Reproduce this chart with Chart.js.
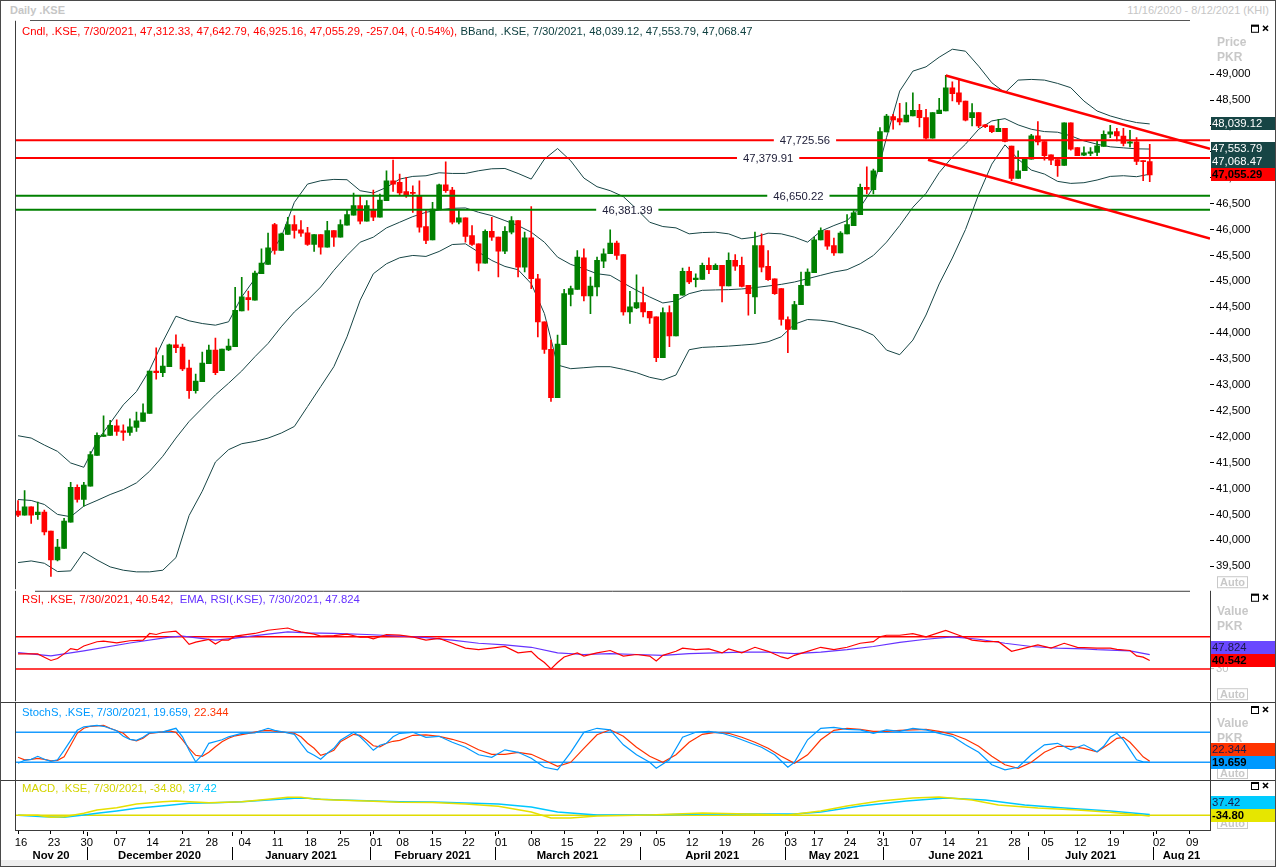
<!DOCTYPE html>
<html>
<head>
<meta charset="utf-8"/>
<title>Daily .KSE</title>
<script src="https://cdn.jsdelivr.net/npm/chart.js@4.4.1/dist/chart.umd.min.js"></script>
<style>
body { margin:0; background:#fff; font-family:"Liberation Sans", Arial, sans-serif; }
canvas { position:absolute; left:0; }
#frame { position:absolute; left:0; top:0; width:1274px; height:865px; border:1px solid #4a4a4a; pointer-events:none; }
#strip { position:absolute; left:1px; top:860px; width:1274px; height:6px; background:#efefef; }
#ttl { position:absolute; left:10px; top:4px; font-size:11px; font-weight:bold; color:#c6c6c6; }
#rng { position:absolute; right:7px; top:4px; font-size:11px; color:#c6c6c6; }
#hdr { position:absolute; left:30px; top:20px; width:1160px; border-top:1px solid #555; }
</style>
</head>
<body>
<div id="ttl">Daily .KSE</div>
<div id="rng">11/16/2020 - 8/12/2021 (KHI)</div>
<div id="hdr"></div>
<canvas id="cMain" width="1276" height="586" style="top:12px"></canvas>
<canvas id="cRsi" width="1276" height="128" style="top:582px"></canvas>
<canvas id="cSto" width="1276" height="94" style="top:694px"></canvas>
<canvas id="cMacd" width="1276" height="95" style="top:772px"></canvas>
<div id="strip"></div>
<div id="frame"></div>
<script>
// ---------- data ----------
var lastDate = '7/30/2021';
// one entry per trading day, 16 Nov 2020 .. 30 Jul 2021
var opens = [40565,40488,40648,40494,40546,40180,39622,39847,40353,41026,
40789,41045,41642,42007,42026,42212,42116,42084,42180,42295,
42449,43270,43238,43353,43776,43731,43327,42892,43065,43411,
43674,43276,43674,43738,44430,44686,44635,45147,45327,46096,
45596,45904,46096,45994,45936,45712,45904,45660,45981,45853,
46083,46276,46462,46160,46378,46237,46558,46942,46910,46731,
46718,46654,46058,45801,46397,46865,46763,46141,46224,45885,
45725,45353,45968,45853,45584,45949,46173,45276,45840,45051,
44218,43686,42757,43776,44750,44846,45455,44718,44891,45391,
45532,45737,45519,44410,44487,44590,44423,44314,43526,44398,
43949,44731,45192,45032,45039,45308,45225,45308,44910,45404,
45308,44923,44699,45692,45289,45051,44859,44263,44071,44551,
44923,45167,45801,45981,45692,45551,45917,46077,46289,46814,
46769,47115,47885,48180,48141,48077,48192,48301,48161,47763,
48238,48289,48738,48641,48481,48161,48257,48020,48000,47891,
47956,47609,46988,47135,47359,47808,47699,47443,47353,47238,
48058,47584,47436,47468,47488,47603,47840,47891,47802,47667,
47693,47327,47312.33];
var highs = [40770,40962,40648,40738,40584,40180,40020,40424,41122,41071,
41122,41712,42078,42404,42315,42327,42231,42347,42475,42635,
43270,43718,43565,43789,43968,43789,43481,43212,43635,43770,
43904,43693,43885,44885,45077,44814,45199,45628,45930,46122,
45930,46237,46269,46173,46045,45904,45904,46160,45981,46186,
46378,46705,46641,46558,46763,46686,47135,47340,47070,47006,
46846,46942,46378,46526,46878,47308,46814,46365,46224,46077,
45725,45994,46237,45853,46058,46250,46173,45949,46442,45135,
44218,43865,43962,44846,44910,45596,45628,45084,45468,45628,
45994,45776,45519,44808,45128,44891,44423,44314,44487,44526,
44750,45256,45276,45147,45353,45455,45340,45308,45551,45519,
45468,44923,45949,45917,45596,45051,44859,44314,44616,45180,
45244,45853,46032,45981,45833,45962,46289,46365,46878,47212,
47167,47968,48224,48224,48436,48449,48641,48417,48321,48257,
48532,48975,48853,48885,48481,48430,48257,48032,48000,48129,
47956,47609,47520,47359,47840,48084,47699,47443,47353,48058,
48058,47584,47597,47584,47712,47904,48013,47956,47956,47917,
47776,47327,47642.79];
var lows = [40456,40488,40328,40405,40103,39302,39603,39847,40353,40738,
40661,41045,41642,42007,42026,42026,41930,42026,42103,42295,
42449,43110,43161,43353,43622,43276,42738,42840,43065,43411,
43199,43276,43661,43738,44430,44442,44635,45147,45327,45526,
45596,45904,45833,45865,45692,45577,45526,45660,45673,45853,
46083,46276,46109,46160,46173,46237,46558,46737,46673,46622,
46333,45949,45725,45801,46397,46718,46109,46109,45756,45692,
45199,45353,45789,45084,45532,45917,45084,45180,44859,43929,
43609,42680,42757,43776,44526,44846,44622,44378,44718,45263,
45532,45423,44346,44186,44474,44314,44186,43449,43526,43738,
43949,44731,44955,44891,45039,45148,45225,44603,44910,45212,
44891,44346,44378,45180,45019,44750,44154,43622,44071,44551,
44923,45167,45801,45616,45500,45551,45917,46077,46289,46686,
46686,47115,47885,47936,48019,48077,48192,47981,47744,47763,
48238,48289,48481,48417,48097,48000,47968,47968,47872,47891,
47693,46943,46988,47135,47359,47635,47340,47250,47026,47238,
47533,47424,47424,47424,47424,47603,47776,47712,47616,47597,
47250,46943,46925.16];
var closes = [40488,40648,40488,40546,40161,39622,39872,40372,41026,40789,
41065,41654,42026,42039,42219,42103,42084,42193,42308,42462,
43270,43238,43366,43776,43718,43308,42892,43077,43424,43674,
43238,43693,43751,44443,44699,44648,45160,45353,45647,45596,
45917,46096,45981,45930,45712,45904,45660,45981,45853,46096,
46288,46462,46160,46462,46237,46570,46942,46878,46705,46673,
46698,46045,45789,46397,46865,46750,46141,46224,45865,45712,
45353,45968,45853,45584,45968,46173,45276,45840,45051,44218,
43686,42757,43788,44763,44859,45468,44718,44910,45404,45532,
45737,45500,44410,44506,44590,44410,44295,43526,44398,43949,
44750,45192,44987,45064,45308,45225,45308,44910,45404,45295,
44904,44763,45692,45276,45032,44763,44263,44071,44551,44923,
45180,45801,45981,45680,45551,45930,46096,46321,46814,46776,
47135,47891,48192,48115,48077,48212,48301,48160,47763,48257,
48308,48738,48622,48462,48109,48257,48000,47988,47891,47956,
47699,46988,47135,47359,47808,47693,47424,47340,47231,48058,
47552,47424,47481,47500,47616,47840,47885,47808,47661,47693,
47315,47312.33,47055.29];

// Bollinger bands, read every second trading day
var bbDays = [];
for (var d = 0; d <= 172; d += 2) bbDays.push(d);
var bbUpper = [42020,41975,41840,41718,41494,41411,41911,42263,42616,42872,
43289,43834,44327,44238,44186,44154,44219,44699,45051,45468,
45853,46526,46878,46942,46968,46962,46750,46705,46814,46974,
47026,47038,47096,47083,47083,47135,47173,47179,47083,46974,
47359,47564,47327,46994,46827,46750,46635,46397,46141,46058,
46032,45917,45942,45949,45917,45821,45853,45930,45917,45853,
45757,45968,46077,46173,46430,46814,47776,48673,49058,49141,
49327,49481,49443,49154,48834,48641,48885,48898,48885,48821,
48738,48481,48289,48193,48122,48065,48039.12];
var bbMiddle = [40789,40770,40693,40501,40456,40661,40770,40885,40981,41110,
41334,41623,41975,42295,42552,42808,43033,43270,43545,43801,
44122,44410,44635,44891,45212,45500,45756,45853,46032,46141,
46250,46333,46378,46410,46417,46333,46269,46173,46077,45949,
45756,45468,45327,45244,45147,45115,44968,44827,44699,44583,
44622,44763,44827,44834,44840,44853,44878,44910,44942,44987,
45051,45116,45180,45225,45340,45500,45757,46077,46430,46699,
47100,47400,47648,47936,48097,48141,48020,47936,47891,47879,
47808,47712,47648,47597,47577,47558,47553.79];
var bbLower = [39571,39603,39558,39398,39411,39776,39622,39488,39424,39392,
39392,39424,39667,40480,40949,41513,41751,41866,41910,41974,
42071,42199,42583,42968,43353,43929,44635,45147,45340,45455,
45500,45481,45577,45711,45724,45564,45404,45288,45224,44955,
44378,43385,43314,43333,43353,43353,43301,43237,43148,43096,
43192,43680,43725,43737,43750,43769,43789,43834,43930,44173,
44263,44250,44218,44141,44071,43962,43673,43584,43866,44350,
44950,45450,46000,46680,47263,47635,47359,47148,47071,46930,
46891,46904,46956,47026,47039,47020,47068.47];

// horizontal levels and the drawn channel (day index, price)
var levels = [47725.56, 47379.91, 46650.22, 46381.39];
var levelColors = ['#ff0000', '#ff0000', '#008000', '#008000'];
var channelTop = [[141, 48975], [181.16, 47560]];
var channelBottom = [[138.3, 47348], [181.16, 45827]];

// RSI and its EMA (day index, value)
var rsi = [[0,48.8],[3,48.8],[4,44.7],[5,40.6],[6,43.0],[7,48.8],[8,55.3],[9,53.7],[10,58.6],[12,63.9],[13,64.7],[15,62.6],[17,65.1],[19,66.0],[20,74.2],[21,72.9],[22,75.4],[24,77.0],[25,70.0],[26,60.7],[27,63.5],[29,66.8],[30,61.0],[31,66.0],[32,66.0],[33,70.9],[36,74.2],[38,78.2],[39,79.1],[41,81.0],[42,78.2],[43,76.1],[45,73.3],[46,70.9],[48,71.4],[50,73.3],[52,69.5],[53,70],[54,67.6],[56,72.9],[58,72.1],[60,70],[62,66],[64,68],[66,62],[68,56],[70,54],[72,56],[74,58],[76,50],[78,52],[79,44],[80,38],[81,30],[82,38],[83,45],[85,50],[86,46],[88,50],[90,53],[92,46],[94,48],[96,46],[97,40],[98,47],[100,52],[101,56],[103,54],[105,55],[107,50],[108,55],[110,50],[112,57],[114,52],[116,45],[117,43],[118,47],[120,52],[122,57],[124,54],[126,57],[128,62],[130,64],[131,70],[132,72],[134,72],[136,74],[138,70],[141,78],[143,72],[145,66],[147,64],[149,64],[151,52],[153,56],[155,60],[157,56],[159,62],[161,57],[164,56],[166,56],[167,54.5],[169,53],[170,46.3],[171,44.7],[172,40.542]];
var rsiEma = [[0,50.3],[5,46.3],[10,52.5],[17,62.3],[23,69.6],[25,70.9],[30,66],[33,68.4],[38,73.3],[41,76.1],[44,74.9],[48,74.2],[53,72.9],[58,70.9],[62,69],[66,66],[70,62],[74,60],[78,57],[82,50],[86,48],[90,49],[94,48],[98,47],[102,49],[106,50],[110,51],[114,51],[118,49],[122,51],[126,54],[130,58],[134,63],[138,67],[142,70],[146,67],[150,62],[154,58],[158,56],[162,55],[164,54],[169,52.5],[172,47.824]];
var rsiLevels = [70, 30];

// Slow stochastic %K and %D
var stochK = [[0,18],[1,24],[2,26],[3,32],[4,26],[5,22],[6,25],[7,44],[8,64],[9,84],[10,91],[12,94],[13,92],[15,83],[16,72],[17,66],[18,64],[19,70],[20,79],[22,81],[24,88],[25,71],[26,44],[27,21],[28,35],[29,58],[31,65],[32,71],[34,78],[36,79],[38,88],[39,84],[41,79],[42,76],[43,58],[44,41],[45,34],[46,26],[47,38],[48,48],[49,64],[51,80],[52,71],[53,58],[54,44],[55,54],[56,58],[57,71],[58,78],[60,80],[62,70],[64,72],[66,60],[68,50],[70,35],[72,30],[74,45],[76,40],[78,28],[80,10],[82,5],[84,40],[86,80],[88,88],[90,85],[92,55],[94,35],[96,20],[97,8],[99,25],[101,70],[103,80],[105,82],[107,78],[109,70],[111,60],[113,50],[115,35],[117,10],[118,20],[120,65],[122,88],[124,90],[126,86],[128,85],[130,78],[132,85],[134,82],[136,88],[138,85],[140,78],[142,72],[144,55],[146,40],[148,15],[150,5],[152,10],[154,35],[156,55],[158,58],[160,45],[162,55],[164,41],[165,52],[166,70],[167,78],[168,65],[169,45],[170,25],[171,21],[172,19.659]];
var stochD = [[0,30],[1,25],[2,26],[3,28],[4,26],[5,23],[6,24],[7,31],[8,54],[9,78],[10,88],[11,92],[13,94],[14,88],[16,78],[17,66],[18,63],[19,68],[20,78],[22,81],[23,83],[24,80],[25,65],[26,48],[27,34],[28,32],[29,40],[30,51],[31,61],[32,68],[33,73],[35,78],[37,83],[38,84],[40,81],[42,78],[43,71],[44,58],[45,48],[46,34],[47,38],[48,44],[49,61],[51,76],[52,74],[53,64],[54,53],[55,51],[56,58],[57,62],[58,64],[60,74],[62,75],[64,72],[66,66],[68,58],[70,45],[72,36],[74,36],[76,40],[78,36],[80,24],[82,12],[84,20],[86,48],[88,75],[90,85],[92,72],[94,50],[96,32],[98,20],[100,35],[102,60],[104,76],[106,80],[108,78],[110,70],[112,60],[114,48],[116,32],[118,18],[120,35],[122,65],[124,84],[126,88],[128,86],[130,82],[132,82],[134,84],[136,85],[138,86],[140,82],[142,76],[144,66],[146,52],[148,32],[150,15],[152,8],[154,20],[156,40],[158,52],[160,52],[162,48],[164,41],[166,58],[167,68],[168,70],[169,60],[170,46],[171,31],[172,22.344]];
var stochLevels = [80, 20];

// MACD line and signal line
var macdLine = [[0,0],[3,0],[5,-100],[7,-70],[10,100],[12,265],[15,380],[18,565],[22,680],[24,715],[29,630],[34,680],[38,800],[41,900],[43,900],[45,815],[48,765],[53,715],[58,650],[63,640],[68,560],[73,450],[78,165],[81,-135],[84,-135],[88,-35],[96,15],[104,115],[111,65],[117,15],[122,215],[126,465],[131,715],[136,865],[140,915],[145,765],[149,515],[155,365],[161,265],[166,150],[172,-34.80]];
var macdSignal = [[0,0],[4,-70],[7,-100],[10,15],[12,100],[15,215],[18,350],[23,500],[26,600],[30,630],[34,680],[38,765],[42,850],[44,850],[46,800],[49,765],[53,730],[58,680],[63,660],[68,620],[73,560],[78,420],[82,165],[88,15],[96,15],[104,65],[111,65],[118,65],[122,165],[128,465],[135,715],[141,865],[147,765],[153,515],[159,365],[166,215],[172,37.42]];

// axis labels
var priceTicks = [39500,40000,40500,41000,41500,42000,42500,43000,43500,44000,44500,45000,45500,46000,46500,47000,47500,48000,48500,49000];
var dayTicks = [0,5,10,15,20,25,29,34,39,44,49,54,58,63,68,73,78,83,88,92,97,102,107,112,117,121,126,131,136,141,146,151,156,161,166,168,173,178];
var dayLabels = ['16','23','30','07','14','21','28','04','11','18','25','01','08','15','22','01','08','15','22','29','05','12','19','26','03','17','24','31','07','14','21','28','05','12','19','','02','09'];
var monthBreaks = [10.5,32.5,53.5,72.5,94.5,116.5,131.5,153.5,172.5];
var monthNames = ['Nov 20','December 2020','January 2021','February 2021','March 2021','April 2021','May 2021','June 2021','July 2021','Aug 21'];

// ---------- drawing ----------
Chart.defaults.font.family = '"Liberation Sans", Arial, sans-serif';
Chart.defaults.font.size = 11.3;
Chart.defaults.color = '#000';

var FONT = '11.3px "Liberation Sans", Arial, sans-serif';
var XMIN = -0.46, XMAX = 181.16;
var UP = '#008000', DOWN = '#ff0000', BB = '#174545';

function pts(pairs) { return pairs.map(function (p) { return {x: p[0], y: p[1]}; }); }
function fmt(v, d) { return v.toLocaleString('en-US', {minimumFractionDigits: d, maximumFractionDigits: d}); }
function hline(v) { return [{x: XMIN, y: v}, {x: XMAX, y: v}]; }
function line(data, color, order, width) {
    return {type: 'line', data: data, borderColor: color, borderWidth: width || 1, pointRadius: 0, tension: 0, fill: false, order: order};
}

function baseOpts(yMin, yMax, yCfg, padBottom) {
    var y = {position: 'right', min: yMin, max: yMax, afterFit: function (s) { s.width = 66; }, border: {display: false}};
    for (var k in yCfg) y[k] = yCfg[k];
    return {
        responsive: false, animation: false, events: [],
        layout: {padding: {left: 15, right: 0, top: 8, bottom: padBottom}},
        plugins: {legend: {display: false}, tooltip: {enabled: false}},
        scales: {
            x: {type: 'linear', min: XMIN, max: XMAX, display: false, offset: false},
            y: y
        }
    };
}

function deco(cfg) {
    return {
        id: 'deco',
        afterDatasetsDraw: function (chart) {
            if (!cfg.levels) return;
            var ctx = chart.ctx, xs = chart.scales.x, ys = chart.scales.y;
            ctx.save();
            ctx.font = FONT; ctx.textAlign = 'center'; ctx.textBaseline = 'middle';
            cfg.levels.forEach(function (l) {
                var px = xs.getPixelForValue(l.at), py = ys.getPixelForValue(l.v);
                var t = fmt(l.v, 2), w = ctx.measureText(t).width;
                ctx.fillStyle = '#fff';
                ctx.fillRect(px - w / 2 - 6, py - 3, w + 12, 6);
                ctx.fillStyle = '#20203a';
                ctx.fillText(t, px, py + 1);
            });
            ctx.restore();
        },
        afterDraw: function (chart) {
            var ctx = chart.ctx, a = chart.chartArea, ys = chart.scales.y, W = chart.width;
            ctx.save();
            ctx.strokeStyle = '#3c3c3c'; ctx.lineWidth = 1;
            ctx.beginPath(); ctx.moveTo(a.left + 0.5, a.top); ctx.lineTo(a.left + 0.5, a.bottom); ctx.stroke();
            if (cfg.top) { ctx.beginPath(); ctx.moveTo(cfg.top[0], a.top + 0.5); ctx.lineTo(cfg.top[1], a.top + 0.5); ctx.stroke(); }
            if (cfg.rightBorder) { ctx.beginPath(); ctx.moveTo(a.right + 0.5, a.top); ctx.lineTo(a.right + 0.5, a.bottom); ctx.stroke(); }
            if (cfg.bottom) { ctx.beginPath(); ctx.moveTo(a.left, a.bottom + 0.5); ctx.lineTo(a.right + 1, a.bottom + 0.5); ctx.stroke(); }

            // legend text
            ctx.font = FONT; ctx.textAlign = 'left'; ctx.textBaseline = 'middle';
            var x = a.left + 7;
            cfg.legend.forEach(function (p) {
                ctx.fillStyle = p[1];
                ctx.fillText(p[0], x, a.top + cfg.legendY);
                x += ctx.measureText(p[0]).width;
            });

            // axis titles
            ctx.font = 'bold 12px "Liberation Sans", Arial, sans-serif';
            ctx.fillStyle = '#c8c8c8';
            cfg.titles.forEach(function (t, k) { ctx.fillText(t, a.right + 7, a.top + cfg.titleY + 15 * k); });

            // Auto button
            var ay = a.bottom - 13;
            ctx.strokeStyle = '#c8c8c8';
            ctx.strokeRect(a.right + 7.5, ay + 0.5, 30, 11);
            ctx.font = 'bold 11px "Liberation Sans", Arial, sans-serif';
            ctx.fillStyle = '#c8c8c8';
            ctx.fillText('Auto', a.right + 10, ay + 6.5);

            // window icons
            var iy = a.top + cfg.iconY;
            ctx.strokeStyle = '#000'; ctx.lineWidth = 1;
            ctx.strokeRect(1251.5, iy - 3.5, 7, 7);
            ctx.fillStyle = '#000'; ctx.fillRect(1251, iy - 4, 8, 2);
            ctx.lineWidth = 1.6;
            ctx.beginPath();
            ctx.moveTo(1263, iy - 3); ctx.lineTo(1268, iy + 2);
            ctx.moveTo(1268, iy - 3); ctx.lineTo(1263, iy + 2);
            ctx.stroke();

            // last value boxes
            var h = 13, x0 = a.right + 1;
            var first = cfg.boxes[0];
            var placed = [{b: first, y: ys.getPixelForValue(first.v)}];
            var cur = placed[0].y;
            cfg.boxes.slice(1).map(function (b) { return {b: b, y: ys.getPixelForValue(b.v)}; })
                .sort(function (p, q) { return q.y - p.y; })
                .forEach(function (r) { var yy = Math.min(r.y, cur - h); cur = yy; placed.push({b: r.b, y: yy}); });
            placed.forEach(function (p) {
                var top = Math.round(p.y - h / 2);
                ctx.fillStyle = p.b.bg;
                ctx.fillRect(x0, top, W - x0, h);
                ctx.fillStyle = p.b.fg;
                ctx.font = (p.b.bold ? 'bold ' : '') + FONT;
                ctx.fillText(fmt(p.b.v, cfg.dec), x0 + 1, top + h / 2 + 0.5);
            });
            ctx.restore();
        }
    };
}

// ----- main price panel -----
var days = closes.map(function (c, i) { return i; });
var candleColors = closes.map(function (c, i) { return c >= opens[i] ? UP : DOWN; });
var n = closes.length - 1;
var chg = closes[n] - closes[n - 1];

var mainOpts = baseOpts(39057, 50030, {
    afterBuildTicks: function (s) { s.ticks = priceTicks.map(function (v) { return {value: v}; }); },
    ticks: {color: '#000', padding: 2, callback: function (v) { return fmt(v, 0); }},
    grid: {drawOnChartArea: false, drawTicks: true, tickLength: 4, color: '#000'}
}, 8);

var mainSets = [
    line(pts(bbDays.map(function (d, k) { return [d, bbUpper[k]]; })), BB, 10),
    line(pts(bbDays.map(function (d, k) { return [d, bbMiddle[k]]; })), BB, 10),
    line(pts(bbDays.map(function (d, k) { return [d, bbLower[k]]; })), BB, 10),
    {type: 'bar', data: days.map(function (i) { return {x: i, y: [lows[i], highs[i]]}; }),
        backgroundColor: candleColors, barThickness: 1, grouped: false, order: 6},
    {type: 'bar', data: days.map(function (i) { return {x: i, y: [opens[i], closes[i]]}; }),
        backgroundColor: candleColors, barThickness: 5, minBarLength: 1, grouped: false, order: 5}
];
levels.forEach(function (v, k) { mainSets.push(line(hline(v), levelColors[k], 3, 2)); });
mainSets.push(line(pts(channelTop), '#ff0000', 2, 2.5));
mainSets.push(line(pts(channelBottom), '#ff0000', 2, 2.5));

new Chart(document.getElementById('cMain'), {
    type: 'bar',
    data: {datasets: mainSets},
    options: mainOpts,
    plugins: [deco({
        legendY: 11, titleY: 22, iconY: 8, titles: ['Price', 'PKR'], dec: 2,
        levels: [{v: levels[0], at: 119.6}, {v: levels[1], at: 114}, {v: levels[2], at: 118.6}, {v: levels[3], at: 92.6}],
        legend: [
            ['Cndl, .KSE, ' + lastDate + ', ' + [opens[n], highs[n], lows[n], closes[n]].map(function (v) { return fmt(v, 2); }).join(', ') +
                ', ' + fmt(chg, 2) + ', (' + fmt(chg / closes[n - 1] * 100, 2) + '%), ', '#ff0000'],
            ['BBand, .KSE, ' + lastDate + ', ' + [bbUpper, bbMiddle, bbLower].map(function (b) { return fmt(b[b.length - 1], 2); }).join(', '), '#0f4040']
        ],
        boxes: [
            {v: closes[n], bg: '#ff0000', fg: '#000', bold: true},
            {v: bbUpper[bbUpper.length - 1], bg: BB, fg: '#fff'},
            {v: bbMiddle[bbMiddle.length - 1], bg: BB, fg: '#fff'},
            {v: bbLower[bbLower.length - 1], bg: BB, fg: '#fff'}
        ]
    })]
});

// ----- RSI panel -----
var rsiLast = rsi[rsi.length - 1][1], emaLast = rsiEma[rsiEma.length - 1][1];
new Chart(document.getElementById('cRsi'), {
    type: 'line',
    data: {datasets: [
        line(hline(rsiLevels[0]), '#ff0000', 5, 1.5),
        line(hline(rsiLevels[1]), '#ff0000', 5, 1.5),
        line(pts(rsiEma), '#6633ff', 2, 1.2),
        line(pts(rsi), '#ff0000', 1, 1.2)
    ]},
    options: baseOpts(-10.1, 127.3, {
        afterBuildTicks: function (s) { s.ticks = [{value: rsiLevels[1]}]; },
        ticks: {color: '#c0c0c0', padding: 2},
        grid: {drawOnChartArea: false, drawTicks: true, tickLength: 4, color: '#c0c0c0'}
    }, 8),
    plugins: [deco({
        legendY: 9, titleY: 21, iconY: 7, titles: ['Value', 'PKR'], dec: 3, top: [35, 1190], rightBorder: true,
        legend: [['RSI, .KSE, ' + lastDate + ', ' + fmt(rsiLast, 3) + ',  ', '#ff0000'],
                 ['EMA, RSI(.KSE), ' + lastDate + ', ' + fmt(emaLast, 3), '#6633ff']],
        boxes: [{v: rsiLast, bg: '#ff0000', fg: '#000', bold: true}, {v: emaLast, bg: '#6a48ff', fg: '#1a1a48'}]
    })]
});

// ----- Stochastic panel -----
var kLast = stochK[stochK.length - 1][1], dLast = stochD[stochD.length - 1][1];
new Chart(document.getElementById('cSto'), {
    type: 'line',
    data: {datasets: [
        line(hline(stochLevels[0]), '#1a9cff', 5, 1.5),
        line(hline(stochLevels[1]), '#1a9cff', 5, 1.5),
        line(pts(stochD), '#ff3300', 2, 1.2),
        line(pts(stochK), '#0099ff', 1, 1.2)
    ]},
    options: baseOpts(-15.4, 140.6, {ticks: {display: false}, grid: {display: false}}, 8),
    plugins: [deco({
        legendY: 11, titleY: 22, iconY: 8, titles: ['Value', 'PKR'], dec: 3, top: [0, 1276], rightBorder: true,
        legend: [['StochS, .KSE, ' + lastDate + ', ' + fmt(kLast, 3) + ', ', '#0099ff'], [fmt(dLast, 3), '#ff3300']],
        boxes: [{v: kLast, bg: '#0099ff', fg: '#000', bold: true}, {v: dLast, bg: '#ff3300', fg: '#1a1a48'}]
    })]
});

// ----- MACD panel with the date axis -----
var mLast = macdLine[macdLine.length - 1][1], sLast = macdSignal[macdSignal.length - 1][1];
var macdOpts = baseOpts(-735, 1765, {ticks: {display: false}, grid: {display: false}}, 0);
macdOpts.scales.x = {
    type: 'linear', min: XMIN, max: XMAX, offset: false, position: 'bottom',
    afterBuildTicks: function (s) { s.ticks = dayTicks.map(function (v) { return {value: v}; }); },
    afterFit: function (s) { s.height = 37; },
    ticks: {autoSkip: false, maxRotation: 0, padding: 2, labelOffset: 3, color: '#000',
        callback: function (v, i) { return dayLabels[i]; }},
    grid: {drawOnChartArea: false, drawTicks: true, tickLength: 4, color: '#000'},
    border: {display: false}
};

var months = {
    id: 'months',
    afterDraw: function (chart) {
        var ctx = chart.ctx, a = chart.chartArea, xs = chart.scales.x;
        ctx.save();
        ctx.strokeStyle = '#000'; ctx.lineWidth = 1;
        var edges = [XMIN].concat(monthBreaks, [XMAX]);
        monthBreaks.forEach(function (b) {
            var px = Math.round(xs.getPixelForValue(b)) + 0.5;
            ctx.beginPath(); ctx.moveTo(px, a.bottom + 2); ctx.lineTo(px, a.bottom + 6); ctx.stroke();
            ctx.beginPath(); ctx.moveTo(px, a.bottom + 17); ctx.lineTo(px, a.bottom + 33); ctx.stroke();
        });
        ctx.font = 'bold 11.3px "Liberation Sans", Arial, sans-serif';
        ctx.fillStyle = '#000'; ctx.textAlign = 'center'; ctx.textBaseline = 'middle';
        monthNames.forEach(function (m, k) {
            var px = (xs.getPixelForValue(edges[k]) + xs.getPixelForValue(edges[k + 1])) / 2;
            ctx.fillText(m, px, a.bottom + 26);
        });
        ctx.restore();
    }
};

new Chart(document.getElementById('cMacd'), {
    type: 'line',
    data: {datasets: [
        line(hline(0), '#e0dc00', 5, 1.5),
        line(pts(macdSignal), '#00c8ff', 2, 1.5),
        line(pts(macdLine), '#e6e000', 1, 1.5)
    ]},
    options: macdOpts,
    plugins: [deco({
        legendY: 9, titleY: 22, iconY: 6, titles: ['Value', 'PKR'], dec: 2, top: [0, 1276], rightBorder: true, bottom: true,
        legend: [['MACD, .KSE, ' + lastDate + ', ' + fmt(mLast, 2) + ', ', '#d4d400'], [fmt(sLast, 2), '#00c8ff']],
        boxes: [{v: mLast, bg: '#e6e600', fg: '#000', bold: true}, {v: sLast, bg: '#00ccff', fg: '#1a1a48'}]
    }), months]
});
</script>
</body>
</html>
